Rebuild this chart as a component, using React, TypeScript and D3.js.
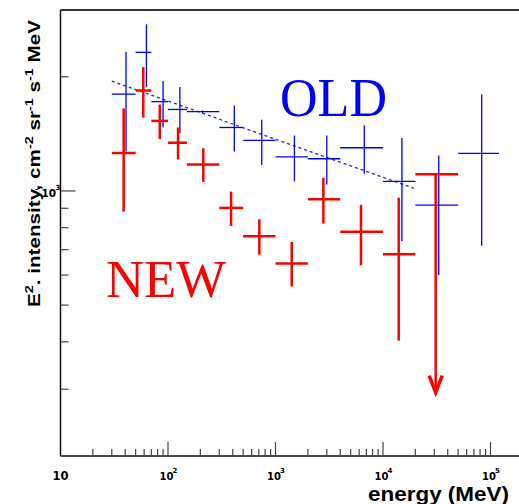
import React, { useEffect, useRef } from 'react';
import * as d3 from 'd3';

// shared energy bins (MeV)
const binEdges = [30, 50, 70, 100, 150, 300, 500, 1000, 2000, 4000, 10000, 20000, 50000, 120000];

// OLD spectrum (blue)
const oldEnergy = [40.7, 63, 90, 129, 210, 414, 745, 1500, 3000, 6700, 15000, 33000, 82800];
const oldValue = [1.8e-3, 2.32e-3, 1.72e-3, 1.64e-3, 1.618e-3, 1.47e-3, 1.36e-3, 1.23e-3, 1.216e-3, 1.3e-3, 1.06e-3, 9.17e-4, 1.256e-3];
const oldHigh = [2.33e-3, 2.75e-3, 1.95e-3, 1.88e-3, 1.63e-3, 1.68e-3, 1.54e-3, 1.4e-3, 1.4e-3, 1.49e-3, 1.38e-3, 1.24e-3, 1.8e-3];
const oldLow = [1.27e-3, 1.88e-3, 1.47e-3, 1.42e-3, 1.6e-3, 1.27e-3, 1.17e-3, 1.06e-3, 1.04e-3, 1.11e-3, 7.38e-4, 6.0e-4, 7.17e-4];

// NEW spectrum (red)
const newEnergy = [38.7, 58.9, 83.8, 124, 213, 386, 707, 1416, 2788, 6240, 14000];
const newValue = [1.259e-3, 1.84e-3, 1.53e-3, 1.34e-3, 1.175e-3, 9.02e-4, 7.6e-4, 6.44e-4, 9.51e-4, 7.8e-4, 6.81e-4];
const newHigh = [1.65e-3, 2.12e-3, 1.69e-3, 1.47e-3, 1.296e-3, 9.96e-4, 8.42e-4, 7.34e-4, 1.083e-3, 9.19e-4, 9.6e-4];
const newLow = [8.82e-4, 1.56e-3, 1.37e-3, 1.21e-3, 1.056e-3, 8.09e-4, 6.79e-4, 5.6e-4, 8.2e-4, 6.37e-4, 4.03e-4];

// NEW upper limit
const limitEnergy = 30900;
const limitValue = 1.107e-3;
const limitTip = 2.94e-4;
const limitBin = [20000, 50000];

// OLD power-law fit (dotted)
const fitEnergy = [30, 19400];
const fitValue = [1.948e-3, 1.016e-3];

const xTickValues = [10, 100, 1000, 10000, 100000];
const xTickExponents = ['', '2', '3', '4', '5'];

const App = () => {
    const svgRef = useRef<SVGSVGElement>(null);
    const width = 519;
    const height = 504;

    useEffect(() => {
        const svg = d3.select(svgRef.current);
        svg.selectAll('*').remove();

        const left = 60.5, top = 10, bottom = 456, right = 519;

        const x = d3.scaleLog().domain([10, 1e5]).range([left, 490.5]);
        const y = d3.scaleLog().domain([2e-4, 3e-3]).range([bottom, top]);

        const g = svg.append('g');

        // frame
        g.append('line').attr('x1', left).attr('x2', right).attr('y1', top).attr('y2', top)
            .attr('stroke', '#333').attr('stroke-width', 2);
        g.append('line').attr('x1', left).attr('x2', left).attr('y1', top).attr('y2', bottom)
            .attr('stroke', '#111').attr('stroke-width', 1.5);
        g.append('line').attr('x1', left).attr('x2', right).attr('y1', bottom).attr('y2', bottom)
            .attr('stroke', '#111').attr('stroke-width', 1.5);

        // x ticks
        const xMax = x.invert(right);
        const xMinor: number[] = [];
        for (let d = 1; d <= 5; d++) {
            for (let k = 2; k <= 9; k++) {
                const v = k * Math.pow(10, d);
                if (v < xMax) xMinor.push(v);
            }
        }
        g.selectAll('.xminor').data(xMinor).enter().append('line')
            .attr('x1', (d) => x(d)).attr('x2', (d) => x(d))
            .attr('y1', bottom).attr('y2', bottom - 7)
            .attr('stroke', '#444').attr('stroke-width', 1.2);
        g.selectAll('.xmajor').data(xTickValues.slice(1)).enter().append('line')
            .attr('x1', (d) => x(d)).attr('x2', (d) => x(d))
            .attr('y1', bottom).attr('y2', bottom - 14)
            .attr('stroke', '#444').attr('stroke-width', 1.2);

        // y ticks
        const yMinor = [3e-4, 4e-4, 5e-4, 6e-4, 7e-4, 8e-4, 9e-4, 2e-3];
        g.selectAll('.yminor').data(yMinor).enter().append('line')
            .attr('x1', left).attr('x2', left + 8)
            .attr('y1', (d) => y(d)).attr('y2', (d) => y(d))
            .attr('stroke', '#444').attr('stroke-width', 1.2);
        g.append('line').attr('x1', left).attr('x2', left + 15)
            .attr('y1', y(1e-3)).attr('y2', y(1e-3))
            .attr('stroke', '#444').attr('stroke-width', 1.2);

        // x tick labels
        const font = "'DejaVu Sans', sans-serif";
        const titleFont = "'Liberation Sans', Arial, sans-serif";
        xTickValues.forEach((v, i) => {
            if (!xTickExponents[i]) {
                g.append('text').attr('x', x(v)).attr('y', 480)
                    .attr('text-anchor', 'middle').attr('font-family', font)
                    .attr('font-weight', 'bold').attr('font-size', 11.5).text('10');
            } else {
                g.append('text').attr('x', x(v) + 5.5).attr('y', 480)
                    .attr('text-anchor', 'end').attr('font-family', font)
                    .attr('font-weight', 'bold').attr('font-size', 10).text('10');
                g.append('text').attr('x', x(v) + 4.5).attr('y', 473)
                    .attr('font-family', font)
                    .attr('font-weight', 'bold').attr('font-size', 7).text(xTickExponents[i]);
            }
        });

        // y tick label
        g.append('text').attr('x', 56).attr('y', y(1e-3) + 6)
            .attr('text-anchor', 'end').attr('font-family', font)
            .attr('font-weight', 'bold').attr('font-size', 10.5).text('10');
        g.append('text').attr('x', 55.5).attr('y', y(1e-3) - 1)
            .attr('font-family', font)
            .attr('font-weight', 'bold').attr('font-size', 7).text('3');
        g.append('text').attr('x', 35).attr('y', y(1e-3) + 1)
            .attr('font-family', font)
            .attr('font-weight', 'bold').attr('font-size', 8).text('-');

        // axis titles
        g.append('text').attr('x', 509).attr('y', 501)
            .attr('text-anchor', 'end').attr('font-family', titleFont)
            .attr('font-weight', 'bold').attr('font-size', 21)
            .attr('textLength', 141).attr('lengthAdjust', 'spacingAndGlyphs')
            .text('energy (MeV)');

        const yTitle = g.append('text')
            .attr('transform', 'translate(39.5,20) rotate(-90)')
            .attr('text-anchor', 'end').attr('font-family', titleFont)
            .attr('font-weight', 'bold').attr('font-size', 16.5)
            .attr('textLength', 287).attr('lengthAdjust', 'spacingAndGlyphs');
        const parts: [string, boolean][] = [
            ['E', false], ['2', true], ['. intensity, cm', false], ['-2', true],
            [' sr', false], ['-1', true], [' s', false], ['-1', true], [' MeV', false],
        ];
        let raised = false;
        parts.forEach(([t, sup]) => {
            const dy = sup === raised ? 0 : (sup ? -7 : 7);
            yTitle.append('tspan').attr('dy', dy)
                .attr('font-size', sup ? 11.5 : 16.5).text(t);
            raised = sup;
        });

        // OLD fit line
        const fitLine = d3.line<number>()
            .x((_, i) => x(fitEnergy[i]))
            .y((d) => y(d));
        g.append('path').datum(fitValue)
            .attr('d', fitLine)
            .attr('fill', 'none').attr('stroke', '#2020ff')
            .attr('stroke-width', 1.3).attr('stroke-dasharray', '3,3');

        // error crosses
        const drawCrosses = (energy: number[], value: number[], hi: number[], lo: number[],
            color: string, sw: number) => {
            energy.forEach((e, i) => {
                g.append('line')
                    .attr('x1', x(binEdges[i])).attr('x2', x(binEdges[i + 1]))
                    .attr('y1', y(value[i])).attr('y2', y(value[i]))
                    .attr('stroke', color).attr('stroke-width', sw);
                g.append('line')
                    .attr('x1', x(e)).attr('x2', x(e))
                    .attr('y1', y(hi[i])).attr('y2', y(lo[i]))
                    .attr('stroke', color).attr('stroke-width', sw);
            });
        };
        drawCrosses(oldEnergy, oldValue, oldHigh, oldLow, '#0000ff', 1.3);
        drawCrosses(newEnergy, newValue, newHigh, newLow, '#ff0000', 2.5);

        // upper limit
        g.append('line')
            .attr('x1', x(limitBin[0])).attr('x2', x(limitBin[1]))
            .attr('y1', y(limitValue)).attr('y2', y(limitValue))
            .attr('stroke', '#ff0000').attr('stroke-width', 2.5);
        g.append('line')
            .attr('x1', x(limitEnergy)).attr('x2', x(limitEnergy))
            .attr('y1', y(limitValue)).attr('y2', y(limitTip) - 2)
            .attr('stroke', '#ff0000').attr('stroke-width', 2.5);
        const tx = x(limitEnergy), ty = y(limitTip);
        g.append('path')
            .attr('d', `M${tx - 6.5},${ty - 17} L${tx},${ty} L${tx + 6.5},${ty - 17}`)
            .attr('fill', 'none').attr('stroke', '#ff0000').attr('stroke-width', 3.5);

        // labels
        g.append('text').attr('x', 280).attr('y', 116)
            .attr('font-family', "'Liberation Serif', serif").attr('font-size', 54)
            .attr('textLength', 107).attr('lengthAdjust', 'spacingAndGlyphs')
            .attr('fill', '#0000ff').text('OLD');
        g.append('text').attr('x', 106).attr('y', 297)
            .attr('font-family', "'Liberation Serif', serif").attr('font-size', 53)
            .attr('textLength', 120).attr('lengthAdjust', 'spacingAndGlyphs')
            .attr('fill', '#ff0000').text('NEW');
    }, []);

    return (
        <div style={{ position: 'absolute', left: 0, top: 0 }}>
            <svg ref={svgRef} width={width} height={height} style={{ display: 'block', background: '#fff' }}></svg>
        </div>
    );
};

export default App;
